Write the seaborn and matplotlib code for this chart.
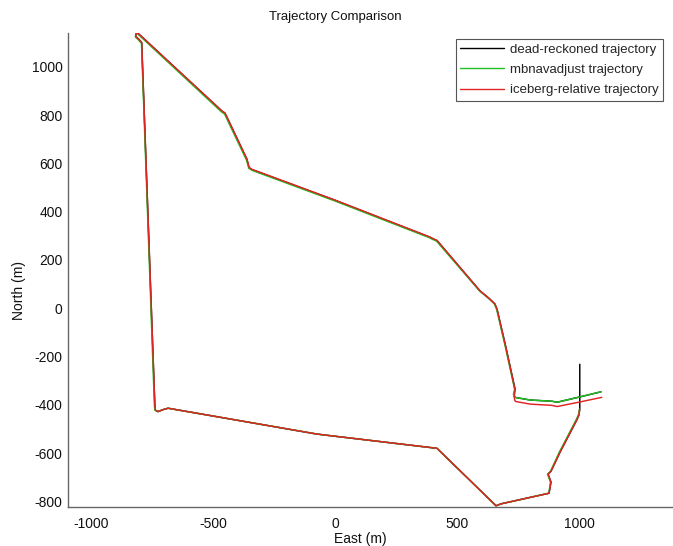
import matplotlib
matplotlib.use("Agg")
import matplotlib.pyplot as plt
import seaborn as sns
import pandas as pd

# ---- data (metres) ----
series_names = ["dead-reckoned trajectory", "mbnavadjust trajectory", "iceberg-relative trajectory"]
series_colors = ["#000000", "#22c022", "#e02424"]

x_dr = [1090, 1004, 911, 888, 800, 742, 735, 733, 738, 700, 664, 655, 630, 594, 418, 400, 389, 0, -340, -352,
        -361, -451, -462, -800, -808, -815, -817, -805, -792, -738, -736, -725, -705, -684, -80, -50, 418, 660, 680, 877,
        885, 873, 885, 922, 992, 1000, 1003, 1003]
y_dr = [-346, -367, -389, -385, -380, -370, -367, -356, -335, -160, -4, 18, 42, 72, 280, 288, 294, 447, 574, 582,
        617, 808, 815, 1132, 1139, 1137, 1126, 1115, 1100, -405, -422, -428, -420, -414, -520, -524, -580, -818, -810, -766,
        -720, -687, -675, -596, -460, -440, -418, -232]

x_mb = [1090, 1004, 911, 888, 800, 742, 735, 731, 736, 698, 662, 653, 628, 592, 416, 398, 387, 0, -340, -353,
        -363, -453, -464, -801, -809, -816, -818, -806, -793, -740, -738, -726, -705, -684, -80, -50, 418, 660, 680, 876,
        883, 871, 883, 919, 989, 998, 1002]
y_mb = [-346, -367, -389, -385, -380, -370, -367, -356, -335, -160, -4, 18, 42, 72, 278, 286, 292, 444, 571, 579,
        614, 805, 812, 1129, 1136, 1134, 1123, 1112, 1097, -405, -422, -428, -420, -414, -520, -524, -580, -818, -810, -766,
        -720, -687, -675, -596, -460, -440, -418]

x_ib = [1093, 1004, 910, 888, 800, 740, 736, 735, 738, 700, 664, 655, 630, 594, 418, 400, 389, 0, -340, -352,
        -361, -451, -462, -800, -808, -815, -817, -805, -792, -738, -736, -725, -705, -684, -80, -50, 418, 660, 680, 877,
        885, 873, 885, 922, 992, 1000, 1002]
y_ib = [-369, -388, -407, -402, -397, -386, -380, -362, -340, -162, -4, 18, 42, 72, 281, 289, 295, 448, 575, 583,
        618, 809, 816, 1132, 1139, 1137, 1126, 1115, 1100, -405, -422, -428, -420, -414, -520, -524, -580, -818, -810, -766,
        -720, -687, -675, -596, -460, -440, -418]

x_ticks = [-1000, -500, 0, 500, 1000]
y_ticks = [-800, -600, -400, -200, 0, 200, 400, 600, 800, 1000]

frames = []
for name, xs, ys in zip(series_names, [x_dr, x_mb, x_ib], [y_dr, y_mb, y_ib]):
    frames.append(pd.DataFrame({"East": xs, "North": ys, "series": name}))
df = pd.concat(frames, ignore_index=True)

sns.set_style("white")
plt.rcParams["font.family"] = ["Liberation Sans", "DejaVu Sans"]

fig = plt.figure(figsize=(6.73, 5.46), dpi=100)
ax = fig.add_axes([68 / 673, 39 / 546, 1 - 68 / 673, (507 - 32.7) / 546])

sns.lineplot(data=df, x="East", y="North", hue="series", hue_order=series_names,
             palette=dict(zip(series_names, series_colors)), sort=False, estimator=None,
             units="series", linewidth=1.05, ax=ax, legend=True)

ax.set_xlim(-1094, 1385)
ax.set_ylim(-823, 1141)
ax.set_xticks(x_ticks)
ax.set_yticks(y_ticks)
ax.set_xticklabels([str(v) for v in x_ticks])
ax.set_yticklabels([str(v) for v in y_ticks])
ax.tick_params(direction="in", length=5, width=0.8, colors="#555555", labelcolor="#111111",
               labelsize=10, pad=4)
ax.tick_params(axis="x", pad=7)
for side in ["top", "right"]:
    ax.spines[side].set_visible(False)
for side in ["left", "bottom"]:
    ax.spines[side].set_color("#666666")
    ax.spines[side].set_linewidth(1.0)
ax.set_xlabel("")
ax.set_ylabel("")

fig.text(335 / 673, 1 - 17 / 546, "Trajectory Comparison", ha="center", va="center", fontsize=9.5, color="#111111")
fig.text(360 / 673, 1 - 539 / 546, "East (m)", ha="center", va="center", fontsize=10, color="#111111")
fig.text(19 / 673, 1 - 290 / 546, "North (m)", ha="center", va="center", rotation=90, fontsize=10, color="#111111")

leg = ax.legend(loc="upper right", bbox_to_anchor=(663 / 673, 1 - 39 / 546), bbox_transform=fig.transFigure,
                fontsize=9.5, frameon=True, fancybox=False, shadow=False, framealpha=1,
                edgecolor="#555555", handlelength=3.3, handletextpad=0.45, labelspacing=0.6,
                borderpad=0.35, borderaxespad=0)
leg.get_frame().set_linewidth(0.8)
for line in leg.get_lines():
    line.set_linewidth(1.0)

fig.savefig("out.png", dpi=100)
